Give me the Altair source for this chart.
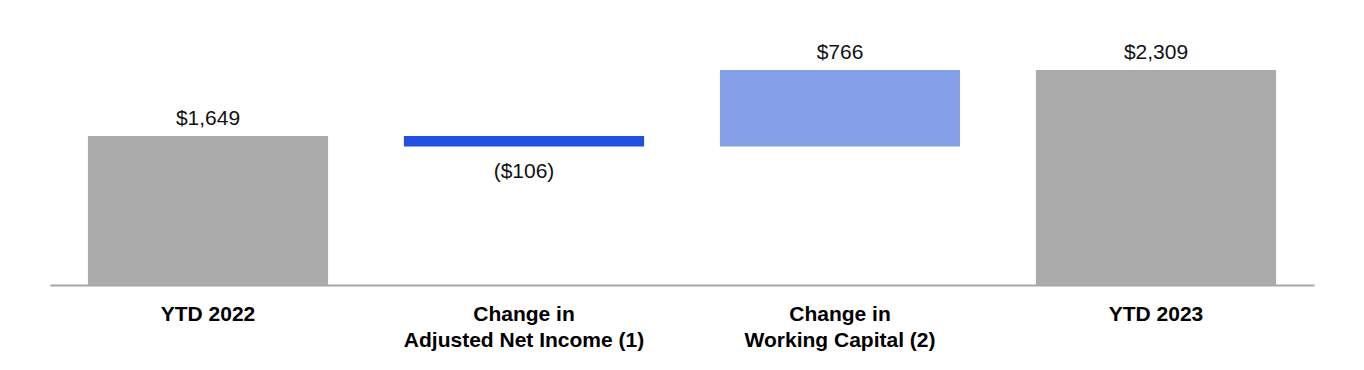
import altair as alt
import pandas as pd

categories = ["YTD 2022", "Change in\nAdjusted Net Income (1)", "Change in\nWorking Capital (2)", "YTD 2023"]
bar_start = [0, 1649, 1543, 0]
bar_end = [1649, 1543, 2309, 2309]
value_labels = ["$1,649", "($106)", "$766", "$2,309"]
kinds = ["total", "decrease", "increase", "total"]

df = pd.DataFrame({
    "category": categories,
    "start": bar_start,
    "end": bar_end,
    "label": value_labels,
    "kind": kinds,
})

FONT = "Liberation Sans"

x_enc = alt.X(
    "category:N",
    sort=None,
    title=None,
    scale=alt.Scale(paddingInner=0.24, paddingOuter=0.12),
    axis=alt.Axis(
        labelExpr="split(datum.label, '\\n')",
        labelAngle=0,
        labelFont=FONT,
        labelFontSize=21,
        labelFontWeight="bold",
        labelColor="#000000",
        labelLineHeight=26,
        labelPadding=18,
        labelLimit=0,
        ticks=False,
        domainColor="#a6a6a6",
        domainWidth=2,
        grid=False,
    ),
)

y_scale = alt.Scale(domain=[159, 2809], zero=False, nice=False)

base = alt.Chart(df)

bars = base.mark_bar(clip=True).encode(
    x=x_enc,
    y=alt.Y("start:Q", scale=y_scale, axis=None),
    y2="end:Q",
    color=alt.Color(
        "kind:N",
        scale=alt.Scale(domain=["total", "decrease", "increase"],
                        range=["#ababab", "#214fe0", "#829fe8"]),
        legend=None,
    ),
)

above = base.transform_filter("datum.kind != 'decrease'").transform_calculate(
    top="max(datum.start, datum.end)"
).mark_text(font=FONT, fontSize=21, baseline="alphabetic", dy=-11.5, color="#111111").encode(
    x=alt.X("category:N", sort=None),
    y=alt.Y("top:Q", scale=y_scale),
    text="label:N",
)

below = base.transform_filter("datum.kind == 'decrease'").transform_calculate(
    bottom="min(datum.start, datum.end)"
).mark_text(font=FONT, fontSize=21, baseline="alphabetic", dy=31.5, color="#111111").encode(
    x=alt.X("category:N", sort=None),
    y=alt.Y("bottom:Q", scale=y_scale),
    text="label:N",
)

chart = (bars + above + below).properties(
    width=1264,
    height=265,
    autosize=alt.AutoSizeParams(type="none"),
    padding={"left": 42, "top": 12, "right": 30, "bottom": 70},
).configure_view(stroke=None)

chart.save("out.html", embed_options={"renderer": "svg", "actions": False})
